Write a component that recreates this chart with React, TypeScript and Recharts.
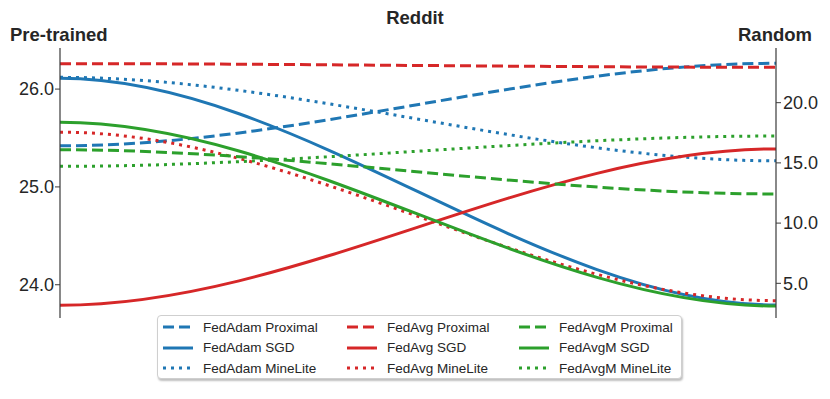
import { LineChart, Line, XAxis, YAxis } from "recharts";

const seriesNames = [
  "FedAdam Proximal", "FedAdam SGD", "FedAdam MineLite",
  "FedAvg Proximal", "FedAvg SGD", "FedAvg MineLite",
  "FedAvgM Proximal", "FedAvgM SGD", "FedAvgM MineLite",
];
// left-axis values (Pre-trained)
const pretrained = [25.42, 26.11, 26.12, 26.26, 23.79, 25.56, 25.38, 25.66, 25.21];
// right-axis values (Random)
const random = [23.27, 3.2, 15.17, 22.94, 16.16, 3.56, 12.42, 3.11, 17.23];

const leftTicks = [24, 25, 26];
const rightTicks = [5, 10, 15, 20];

const LEFT_DOMAIN: [number, number] = [23.66, 26.42];
const RIGHT_DOMAIN: [number, number] = [2.12, 24.54];

const COLORS = { FedAdam: "#1f77b4", FedAvg: "#d62728", FedAvgM: "#2ca02c" };
const DASH: Record<string, string | undefined> = {
  Proximal: "11 5",
  SGD: undefined,
  MineLite: "3 5",
};

const FONT = "'Liberation Sans', Arial, sans-serif";
const INK = "#262626";

// right axis value -> same pixel height in left axis units
const toLeft = (v: number) =>
  LEFT_DOMAIN[0] +
  ((v - RIGHT_DOMAIN[0]) * (LEFT_DOMAIN[1] - LEFT_DOMAIN[0])) /
    (RIGHT_DOMAIN[1] - RIGHT_DOMAIN[0]);

const data = [0, 1].map((x) => {
  const row: Record<string, number> = { x };
  seriesNames.forEach((n, i) => {
    row[n] = x === 0 ? pretrained[i] : toLeft(random[i]);
  });
  return row;
});

// S-shaped curve: cubic bezier with flat tangents, handles at 1/3 and 2/3
function sCurve(context: any) {
  let px = 0;
  let py = 0;
  let started = false;
  return {
    areaStart() {},
    areaEnd() {},
    lineStart() {
      started = false;
    },
    lineEnd() {},
    point(x: number, y: number) {
      x = +x;
      y = +y;
      if (!started) {
        context.moveTo(x, y);
        started = true;
      } else {
        const dx = (x - px) / 3;
        context.bezierCurveTo(px + dx, py, x - dx, y, x, y);
      }
      px = x;
      py = y;
    },
  };
}

const styleOf = (name: string) => {
  const [algo, opt] = name.split(" ");
  return { color: COLORS[algo as keyof typeof COLORS], dash: DASH[opt] };
};

function LegendBox() {
  const rows = [0, 1, 2];
  const cols = [0, 1, 2];
  const colWidths = [184, 172, 160];
  return (
    <div
      style={{
        position: "absolute",
        left: 157,
        top: 315,
        width: 525,
        height: 64,
        boxSizing: "border-box",
        background: "#fff",
        border: "1px solid #cfcfcf",
        borderRadius: 4,
        boxShadow: "1px 2px 2px rgba(0,0,0,0.25)",
        fontFamily: FONT,
        fontSize: 13.5,
        color: INK,
        padding: "1px 0 0 5px",
      }}
    >
      {rows.map((r) => (
        <div key={r} style={{ display: "flex", height: 20.5, alignItems: "center" }}>
          {cols.map((c) => {
            const name = seriesNames[c * 3 + r];
            const s = styleOf(name);
            return (
              <div key={c} style={{ width: colWidths[c], display: "flex", alignItems: "center" }}>
                <svg width={30} height={6} style={{ marginRight: 10 }}>
                  <line x1={0} y1={3} x2={30} y2={3} stroke={s.color} strokeWidth={3} strokeDasharray={s.dash} />
                </svg>
                <span>{name}</span>
              </div>
            );
          })}
        </div>
      ))}
    </div>
  );
}

export default function App() {
  const title = { position: "absolute" as const, fontFamily: FONT, fontWeight: 700, fontSize: 18.5, color: INK };
  return (
    <div style={{ position: "absolute", left: 0, top: 0, width: 830, height: 399, background: "#fff" }}>
      <LineChart
        width={830}
        height={399}
        data={data}
        margin={{ top: 48, right: 0, left: 0, bottom: 81 }}
      >
        <XAxis dataKey="x" type="number" domain={[0, 1]} hide />
        <YAxis
          yAxisId="left"
          orientation="left"
          width={60}
          domain={LEFT_DOMAIN}
          ticks={leftTicks}
          allowDataOverflow
          tickFormatter={(v: number) => v.toFixed(1)}
          tick={{ fill: INK, fontSize: 18, fontFamily: FONT }}
          tickSize={5}
          tickMargin={1}
          axisLine={{ stroke: "#3a3a3a", strokeWidth: 1.2 }}
          tickLine={{ stroke: "#3a3a3a" }}
        />
        <YAxis
          yAxisId="right"
          orientation="right"
          width={54}
          domain={RIGHT_DOMAIN}
          ticks={rightTicks}
          allowDataOverflow
          tickFormatter={(v: number) => v.toFixed(1)}
          tick={{ fill: INK, fontSize: 18, fontFamily: FONT }}
          tickSize={5}
          tickMargin={2}
          axisLine={{ stroke: "#3a3a3a", strokeWidth: 1.2 }}
          tickLine={{ stroke: "#3a3a3a" }}
        />
        {seriesNames.map((n) => {
          const s = styleOf(n);
          return (
            <Line
              key={n}
              yAxisId="left"
              dataKey={n}
              type={sCurve as any}
              stroke={s.color}
              strokeWidth={3}
              strokeDasharray={s.dash}
              dot={false}
              isAnimationActive={false}
            />
          );
        })}
      </LineChart>
      <div style={{ ...title, left: 0, width: 830, top: 7, textAlign: "center" }}>Reddit</div>
      <div style={{ ...title, left: 10, top: 24 }}>Pre-trained</div>
      <div style={{ ...title, right: 18, top: 24 }}>Random</div>
      <LegendBox />
    </div>
  );
}
